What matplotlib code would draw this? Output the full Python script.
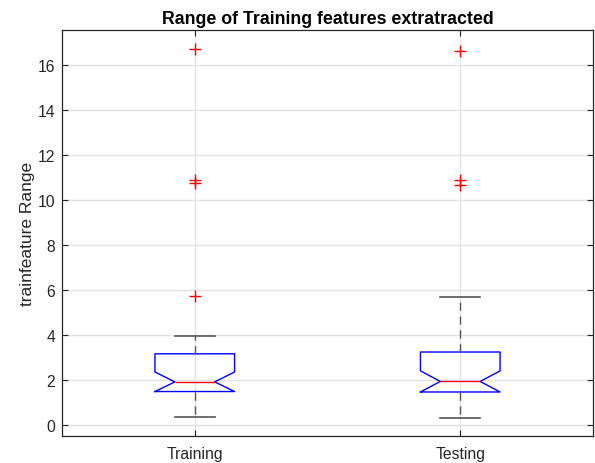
import matplotlib
matplotlib.use("Agg")
import matplotlib.pyplot as plt

plt.rcParams['font.family'] = ['Liberation Sans', 'DejaVu Sans']

# five-number summaries per group, notch bounds and outliers
labels = ['Training', 'Testing']
whislo = [0.35, 0.32]
q1 = [1.48, 1.46]
cilo = [1.48, 1.46]
med = [1.91, 1.93]
cihi = [2.35, 2.40]
q3 = [3.16, 3.24]
whishi = [3.96, 5.70]
fliers = [[5.73, 10.76, 10.91, 16.73], [10.67, 10.91, 16.66]]

stats = []
for i, name in enumerate(labels):
    stats.append({
        'label': name, 'whislo': whislo[i], 'q1': q1[i], 'cilo': cilo[i],
        'med': med[i], 'cihi': cihi[i], 'q3': q3[i], 'whishi': whishi[i],
        'fliers': fliers[i],
    })

fig = plt.figure(figsize=(5.95, 4.64), dpi=100)
ax = fig.add_axes([62 / 595, 1 - 437 / 464, 531 / 595, 406 / 464])

ax.bxp(stats, positions=[1, 2], widths=0.30, shownotches=True,
       boxprops=dict(color='#0000ff', linewidth=1.0),
       medianprops=dict(color='#ff0000', linewidth=1.0),
       whiskerprops=dict(color='#555555', linewidth=1.0, linestyle=(0, (6, 4))),
       capprops=dict(color='#555555', linewidth=1.2),
       flierprops=dict(marker='+', markeredgecolor='#ff0000', markersize=8,
                       markeredgewidth=1.0, linestyle='none'))

ax.set_xlim(0.5, 2.5)
ax.set_ylim(-0.5, 17.58)
ax.set_yticks(range(0, 17, 2))
ax.set_xticks([1, 2])
ax.set_xticklabels(labels)

ax.grid(True, color='#e3e3e3', linewidth=1.0)
ax.set_axisbelow(True)
ax.tick_params(direction='in', top=True, right=True, length=4,
               labelsize=11.3, colors='#262626', pad=5)
ax.tick_params(axis='x', pad=7)
for sp in ax.spines.values():
    sp.set_color('#262626')
    sp.set_linewidth(0.9)

ax.set_ylabel('trainfeature Range', fontsize=12.5, color='#262626', labelpad=2)
ax.set_title('Range of Training features extratracted', fontsize=12.8,
             fontweight='bold', pad=5)

fig.savefig('out.png', dpi=100)
